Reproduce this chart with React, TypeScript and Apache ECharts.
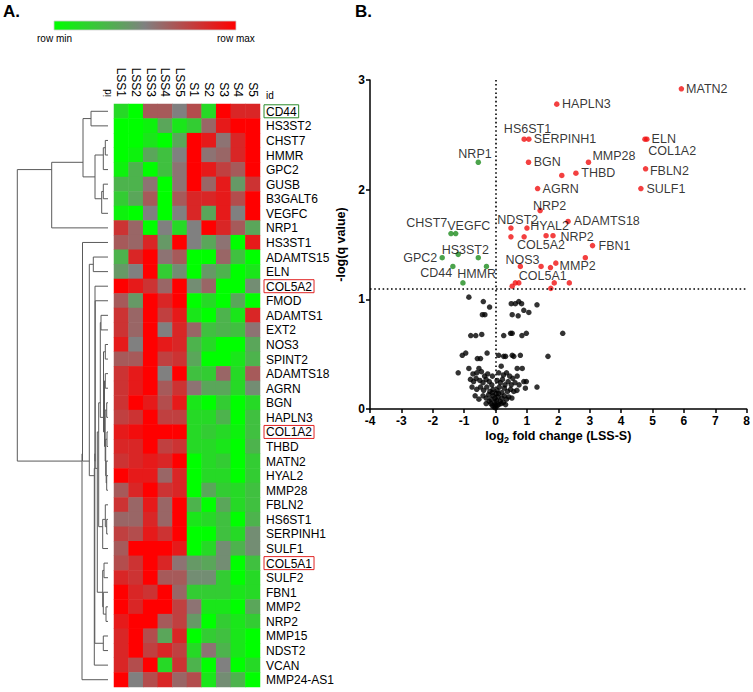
import React, { useEffect, useRef } from 'react';
import * as echarts from 'echarts';

const FONT = '"Liberation Sans", Arial, sans-serif';

// ---------- Panel A: heatmap ----------
const COLUMNS = ['LSS1', 'LSS2', 'LSS3', 'LSS4', 'LSS5', 'S1', 'S2', 'S3', 'S4', 'S5'];
const GENES = [
  'CD44', 'HS3ST2', 'CHST7', 'HMMR', 'GPC2', 'GUSB', 'B3GALT6', 'VEGFC', 'NRP1', 'HS3ST1',
  'ADAMTS15', 'ELN', 'COL5A2', 'FMOD', 'ADAMTS1', 'EXT2', 'NOS3', 'SPINT2', 'ADAMTS18', 'AGRN',
  'BGN', 'HAPLN3', 'COL1A2', 'THBD', 'MATN2', 'HYAL2', 'MMP28', 'FBLN2', 'HS6ST1', 'SERPINH1',
  'SULF1', 'COL5A1', 'SULF2', 'FBN1', 'MMP2', 'NRP2', 'MMP15', 'NDST2', 'VCAN', 'MMP24-AS1',
];
// relative expression, 0 = row min (green), 0.5 = middle (grey), 1 = row max (red)
const EXPR = [
  [0.15, 0.0, 0.65, 0.65, 0.5, 0.7, 0.15, 1.0, 0.85, 0.85],
  [0.0, 0.0, 0.05, 0.35, 0.1, 0.2, 0.6, 0.9, 1.0, 1.0],
  [0.0, 0.0, 0.1, 0.0, 0.35, 1.0, 0.9, 0.55, 0.85, 1.0],
  [0.0, 0.05, 0.35, 0.25, 0.5, 1.0, 0.55, 0.6, 0.85, 1.0],
  [0.05, 0.3, 0.0, 0.25, 0.55, 1.0, 0.9, 0.75, 0.65, 1.0],
  [0.3, 0.3, 0.55, 0.0, 0.55, 1.0, 0.6, 0.9, 0.4, 0.8],
  [0.2, 0.35, 0.65, 0.0, 0.65, 0.85, 0.85, 0.9, 0.7, 1.0],
  [0.05, 0.0, 0.5, 0.0, 0.5, 0.85, 0.35, 0.9, 0.5, 1.0],
  [0.8, 0.6, 0.0, 0.5, 0.15, 0.5, 1.0, 0.85, 0.65, 0.35],
  [0.65, 0.6, 0.85, 0.4, 1.0, 0.5, 0.35, 0.55, 0.0, 0.9],
  [0.3, 0.85, 1.0, 0.55, 0.65, 0.0, 0.0, 0.6, 0.25, 0.0],
  [0.4, 0.5, 1.0, 0.2, 0.45, 0.0, 0.4, 0.3, 0.0, 0.1],
  [1.0, 0.9, 0.8, 0.6, 1.0, 0.45, 0.6, 0.0, 0.0, 0.45],
  [0.65, 0.4, 1.0, 0.85, 1.0, 0.0, 0.15, 0.0, 0.35, 0.0],
  [0.8, 0.6, 1.0, 0.75, 0.9, 0.1, 0.0, 0.3, 0.1, 0.85],
  [0.8, 0.6, 1.0, 0.5, 0.85, 0.6, 0.25, 0.3, 0.25, 0.55],
  [0.9, 0.5, 1.0, 0.9, 0.85, 0.3, 0.15, 0.0, 0.0, 0.35],
  [0.65, 0.65, 1.0, 0.75, 0.8, 0.35, 0.0, 0.0, 0.1, 0.3],
  [0.8, 0.9, 1.0, 0.5, 1.0, 0.25, 0.2, 0.6, 0.15, 0.65],
  [0.8, 0.9, 1.0, 0.65, 0.8, 0.55, 0.35, 0.35, 0.15, 0.45],
  [0.8, 1.0, 0.9, 0.7, 0.9, 0.1, 0.0, 0.2, 0.0, 0.15],
  [0.75, 0.8, 1.0, 0.75, 0.75, 0.15, 0.15, 0.3, 0.0, 0.25],
  [0.9, 0.95, 1.0, 1.0, 1.0, 0.15, 0.2, 0.15, 0.05, 0.25],
  [0.85, 0.85, 1.0, 0.75, 0.8, 0.15, 0.15, 0.1, 0.0, 0.3],
  [0.8, 0.85, 0.9, 0.85, 1.0, 0.0, 0.15, 0.2, 0.0, 0.2],
  [1.0, 0.9, 0.9, 0.6, 0.85, 0.0, 0.15, 0.15, 0.0, 0.2],
  [0.65, 0.85, 1.0, 0.8, 0.85, 0.0, 0.35, 0.2, 0.15, 0.25],
  [0.8, 0.6, 0.9, 0.6, 1.0, 0.3, 0.0, 0.35, 0.15, 0.25],
  [0.6, 0.6, 0.85, 0.6, 1.0, 0.1, 0.15, 0.25, 0.0, 0.3],
  [0.75, 0.7, 0.9, 0.8, 1.0, 0.0, 0.0, 0.25, 0.15, 0.45],
  [0.65, 1.0, 1.0, 1.0, 0.9, 0.0, 0.15, 0.45, 0.3, 0.45],
  [0.7, 0.8, 1.0, 0.85, 0.55, 0.4, 0.35, 0.45, 0.0, 0.25],
  [0.85, 0.8, 1.0, 0.65, 0.65, 0.45, 0.45, 0.2, 0.0, 0.15],
  [1.0, 0.85, 0.8, 1.0, 0.6, 0.2, 0.2, 0.2, 0.1, 0.15],
  [1.0, 0.85, 1.0, 1.0, 0.75, 0.55, 0.1, 0.1, 0.0, 0.35],
  [0.9, 1.0, 1.0, 0.65, 0.75, 0.4, 0.0, 0.2, 0.1, 0.2],
  [0.85, 1.0, 0.7, 0.35, 0.85, 0.0, 0.2, 0.25, 0.1, 0.0],
  [0.85, 1.0, 0.75, 0.85, 0.75, 0.15, 0.55, 0.3, 0.1, 0.0],
  [0.85, 0.7, 1.0, 0.15, 0.8, 0.3, 0.0, 0.5, 0.0, 0.15],
  [1.0, 0.5, 0.7, 0.85, 0.6, 0.7, 0.1, 0.45, 0.3, 0.0],
];
const BOXED_GREEN = ['CD44'];
const BOXED_RED = ['COL5A2', 'COL1A2', 'COL5A1'];

// Row dendrogram: [linkage height, left, right]; leaves are row indices
type TreeNode = number | [number, TreeNode, TreeNode];
const TREE: TreeNode = [90.7,
  [56.3,
    [25, [17, 0, 1], [13, [4.7, [2.7, 2, 3], 4], [6.3, [4.7, 5, 6], 7]]],
    8],
  [26,
    [25.5, 9,
      [18.7, [14.7, 10, 11],
        [13.7,
          [13.2,
            [13, 12,
              [12.8, 13,
                [10.7,
                  [9.3,
                    [7.7, [7, 14, 15],
                      [4.5, [2.7, 16, 17], [3.5, [2.7, 18, 19], [2.8, [1.3, 20, 21], [2.3, [1, 22, 23], [1.8, 24, [1.3, 25, 26]]]]]]],
                    [5.3, [2.7, 27, [1.3, 28, 29]], 30]],
                  [5.3, [4, 31, 32], [4.7, 33, [2, 34, 35]]]]]],
            [4.7, 36, 37]],
          38]]],
    39]];

// ---------- Panel B: volcano ----------
const UP_LABELS = ['MATN2', 'HAPLN3', 'HS6ST1', 'SERPINH1', 'COL1A2', 'ELN', 'BGN', 'MMP28', '', 'THBD',
  'FBLN2', 'AGRN', 'SULF1', 'NRP2', 'ADAMTS18', 'NDST2', 'HYAL2', '', 'COL5A2', '', 'NRP2', 'FBN1', '',
  'NOS3', '', '', 'MMP2', '', '', 'COL5A1', '', '', ''];
const UP_FC = [5.92, 1.95, 0.91, 1.06, 4.76, 4.82, 1.05, 2.96, 2.11, 2.56,
  4.78, 1.34, 4.63, 1.42, 2.31, 0.49, 1.0, 0.49, 0.91, 1.61, 1.83, 3.09, 2.86,
  0.79, 1.45, 1.75, 1.92, 0.53, 0.63, 0.74, 1.76, 1.87, 2.35];
const UP_Q = [2.92, 2.78, 2.46, 2.46, 2.46, 2.46, 2.25, 2.25, 2.13, 2.15,
  2.19, 2.01, 2.01, 1.81, 1.71, 1.65, 1.65, 1.57, 1.57, 1.58, 1.58, 1.49, 1.38,
  1.3, 1.3, 1.29, 1.33, 1.12, 1.15, 1.15, 1.1, 1.15, 1.15];

const DOWN_LABELS = ['NRP1', 'CHST7', 'VEGFC', 'GPC2', 'HS3ST2', '', 'CD44', '', 'HMMR'];
const DOWN_FC = [-0.55, -1.42, -1.27, -1.7, -1.19, -0.55, -1.36, -0.29, -1.04];
const DOWN_Q = [2.25, 1.6, 1.6, 1.38, 1.41, 1.38, 1.3, 1.3, 1.15];

const NS_FC = [-0.85, -0.39, -0.19, -0.42, -0.34, 0.5, 0.63, 0.74, 0.83, 0.9, 1.06, 0.53, 0.72, 1.32,
  -0.79, -0.63, -0.44, 0.26, 0.48, 0.53, 0.84, 0.98, 2.14,
  -1.06, -0.95, -0.58, -0.48, -0.27, 0.1, 0.26, 0.32, 0.53, 0.58, 0.79, 1.67,
  -1.19, -0.85, -0.53, 0.18, 0.69, 0.85,
  -0.72, -0.6, -0.45, -0.35, -0.25, -0.1, 0.1, 0.25, 0.35, 0.45, 0.55, 0.69, 0.9, 0.98, 0.95, 1.32,
  -0.8, -0.7, -0.62, -0.5, -0.4, -0.3, -0.2, -0.12, 0.05, 0.15, 0.22, 0.3, 0.4, 0.5, 0.62, 0.75,
  -0.75, -0.6, -0.48, -0.38, -0.28, -0.18, -0.08, 0.05, 0.12, 0.2, 0.28, 0.38, 0.48, 0.58, 0.68,
  -0.53, -0.4, -0.3, -0.22, -0.14, -0.08, -0.03, 0.03, 0.08, 0.14, 0.2, 0.28, 0.35, 0.42, 0.52,
  -0.15, -0.1, -0.05, 0.0, 0.05, 0.1, 0.18, 0.25, -0.2, 0.0, -0.02, 0.02, -0.1, 0.1, -0.65, -0.3, 0.32];
const NS_Q = [1.02, 0.98, 0.93, 0.86, 0.86, 0.96, 0.96, 0.98, 0.96, 0.9, 0.88, 0.86, 0.85, 0.95,
  0.67, 0.67, 0.68, 0.67, 0.69, 0.69, 0.67, 0.69, 0.69,
  0.49, 0.51, 0.46, 0.46, 0.51, 0.49, 0.48, 0.48, 0.49, 0.48, 0.49, 0.48,
  0.33, 0.37, 0.37, 0.39, 0.37, 0.37,
  0.32, 0.33, 0.34, 0.3, 0.32, 0.3, 0.33, 0.31, 0.33, 0.3, 0.28, 0.3, 0.25, 0.25, 0.19, 0.2,
  0.27, 0.25, 0.28, 0.26, 0.24, 0.27, 0.25, 0.22, 0.26, 0.24, 0.27, 0.22, 0.25, 0.22, 0.24, 0.22,
  0.2, 0.18, 0.2, 0.17, 0.2, 0.16, 0.18, 0.17, 0.2, 0.15, 0.19, 0.16, 0.18, 0.16, 0.17,
  0.09, 0.12, 0.1, 0.13, 0.09, 0.12, 0.06, 0.08, 0.11, 0.07, 0.1, 0.12, 0.09, 0.11, 0.1,
  0.05, 0.03, 0.02, 0.01, 0.03, 0.04, 0.05, 0.06, 0.07, 0.04, 0.1, 0.14, 0.15, 0.14, 0.12, 0.05, 0.04];

const X_TICKS = [-4, -3, -2, -1, 0, 1, 2, 3, 4, 5, 6, 7, 8];
const Y_TICKS = [0, 1, 2, 3];
const Q_THRESHOLD = 1.1;

// label placement (side, dx, dy) for labelled volcano points, same order as the label arrays
const UP_LABEL_LAYOUT: [string, number, number][] = [
  ['right', 2, 0], ['right', 2.5, 0], ['right', -23, -10.4], ['right', 2.2, 0], ['right', 0.5, 12],
  ['right', 2, 0], ['right', 2.5, 0], ['right', 1.2, -6], ['right', 0, 0], ['right', 2.6, 0],
  ['right', 1.6, 2.6], ['right', 2.2, 0], ['right', 2.8, 0], ['right', -10, -5], ['right', 3, 0],
  ['right', -16.4, -8.4], ['right', 0.6, -2], ['right', 0, 0], ['right', -9.8, 8.3], ['right', 0, 0],
  ['right', 4.7, 1], ['right', 3.2, 0], ['right', 0, 0], ['right', -17.7, -6.7], ['right', 0, 0],
  ['right', 0, 0], ['right', 1, 2.6], ['right', 0, 0], ['right', 0, 0], ['right', -2.7, -7],
  ['right', 0, 0], ['right', 0, 0], ['right', 0, 0],
];
const DOWN_LABEL_LAYOUT: [string, number, number][] = [
  ['right', -22.7, -8], ['left', -1, -11], ['right', -11.2, -7.6], ['left', -2.2, 0], ['right', -19.3, -4.3],
  ['right', 0, 0], ['left', 2, 7], ['right', 0, 0], ['right', -8.5, -8.4],
];

function buildDendro(tree: TreeNode) {
  const segs: number[][] = [];
  const walk = (n: TreeNode): { h: number; y: number; c: number } => {
    if (typeof n === 'number') return { h: 0, y: n + 0.5, c: 1 };
    const [h, l, r] = n;
    const a = walk(l);
    const b = walk(r);
    segs.push([h, a.y, b.y, a.h, b.h]);
    return { h, y: (a.y * a.c + b.y * b.c) / (a.c + b.c), c: a.c + b.c };
  };
  walk(tree);
  return segs;
}

function pointData(labels: string[], fc: number[], q: number[], layout: [string, number, number][]) {
  return fc.map((x, i) => {
    const name = labels[i];
    const item: any = { value: [x, q[i]], name };
    if (name) {
      const [pos, dx, dy] = layout[i];
      item.label = {
        show: true, formatter: name, position: pos, distance: 0, offset: [dx, dy],
        fontSize: 12.5, color: '#000', fontFamily: FONT,
      };
    }
    return item;
  });
}

export default function App() {
  const ref = useRef<HTMLDivElement>(null);
  useEffect(() => {
    document.body.style.margin = '0';
    const chart = echarts.init(ref.current!, undefined, { renderer: 'svg' });

    const heatData: number[][] = [];
    EXPR.forEach((row, r) => row.forEach((v, c) => heatData.push([c, r, v])));
    const dendro = buildDendro(TREE);

    const option: any = {
      animation: false,
      textStyle: { fontFamily: FONT },
      grid: [
        { left: 114, top: 104, width: 146, height: 583 },
        { left: 17, top: 104, width: 91, height: 583 },
        { left: 370, top: 80, width: 378, height: 329 },
      ],
      visualMap: {
        show: false, type: 'continuous', min: 0, max: 1, seriesIndex: 0, dimension: 2,
        inRange: { color: ['#00ff00', '#808080', '#ff0000'] },
      },
      xAxis: [
        {
          gridIndex: 0, type: 'category', data: COLUMNS, position: 'top',
          axisLine: { show: false }, axisTick: { show: false },
          axisLabel: { rotate: 90, margin: 7, fontSize: 12, color: '#000', interval: 0 },
        },
        { gridIndex: 1, type: 'value', min: 0, max: 91, inverse: true, show: false },
        {
          gridIndex: 2, type: 'value', min: -4, max: 8, interval: 1,
          splitLine: { show: false },
          axisLine: { onZero: false, lineStyle: { color: '#000', width: 1.5 } },
          axisTick: { length: 4, lineStyle: { color: '#000', width: 1.5 } },
          axisLabel: {
            fontSize: 12, fontWeight: 'bold', color: '#000', margin: 6,
            formatter: (v: number) => (X_TICKS.includes(v) ? String(v) : ''),
          },
          name: '{a|log}{s|2}{a| fold change (LSS-S)}', nameLocation: 'middle', nameGap: 19,
          nameTextStyle: {
            rich: {
              a: { fontSize: 12.5, fontWeight: 'bold', color: '#000', lineHeight: 16, verticalAlign: 'middle', fontFamily: FONT },
              s: { fontSize: 9, fontWeight: 'bold', color: '#000', lineHeight: 9, verticalAlign: 'bottom', fontFamily: FONT },
            },
          },
        },
      ],
      yAxis: [
        {
          gridIndex: 0, type: 'category', data: GENES, inverse: true, position: 'right',
          axisLine: { show: false }, axisTick: { show: false },
          axisLabel: {
            interval: 0, margin: 4, fontSize: 12, color: '#000',
            formatter: (v: string) =>
              BOXED_GREEN.includes(v) ? `{g|${v}}` : BOXED_RED.includes(v) ? `{r|${v}}` : `{n|${v}}`,
            rich: {
              n: { fontSize: 12, color: '#000', padding: [1, 2, 0, 2] },
              g: { fontSize: 12, color: '#000', borderColor: '#2a8a2a', borderWidth: 1, padding: [1, 2, 0, 2] },
              r: { fontSize: 12, color: '#000', borderColor: '#e02424', borderWidth: 1, padding: [1, 2, 0, 2] },
            },
          },
        },
        { gridIndex: 1, type: 'value', min: 0, max: 40, inverse: true, show: false },
        {
          gridIndex: 2, type: 'value', min: 0, max: 3, interval: 1,
          splitLine: { show: false },
          axisLine: { show: true, onZero: false, lineStyle: { color: '#000', width: 1.5 } },
          axisTick: { show: true, length: 4, lineStyle: { color: '#000', width: 1.5 } },
          axisLabel: {
            fontSize: 12, fontWeight: 'bold', color: '#000', margin: 5,
            formatter: (v: number) => (Y_TICKS.includes(v) ? String(v) : ''),
          },
          name: '-log(q value)', nameLocation: 'middle', nameGap: 14,
          nameTextStyle: { fontSize: 12.5, fontWeight: 'bold', color: '#000' },
        },
      ],
      series: [
        {
          type: 'heatmap', xAxisIndex: 0, yAxisIndex: 0, data: heatData,
          emphasis: { disabled: true }, silent: true,
        },
        {
          type: 'custom', xAxisIndex: 1, yAxisIndex: 1, data: dendro, silent: true,
          renderItem: (params: any, api: any) => {
            const nh = api.value(0), y1 = api.value(1), y2 = api.value(2), h1 = api.value(3), h2 = api.value(4);
            const pts = [api.coord([h1, y1]), api.coord([nh, y1]), api.coord([nh, y2]), api.coord([h2, y2])];
            return { type: 'polyline', shape: { points: pts }, style: { stroke: '#5a5a5a', lineWidth: 1, fill: null } };
          },
        },
        {
          type: 'scatter', xAxisIndex: 2, yAxisIndex: 2, symbolSize: 5.5, silent: true,
          itemStyle: { color: '#000' },
          data: NS_FC.map((x, i) => [x, NS_Q[i]]),
          markLine: {
            silent: true, symbol: 'none', label: { show: false },
            lineStyle: { color: '#000', type: [1.6, 2.6], width: 1.6 },
            data: [{ xAxis: 0 }, { yAxis: Q_THRESHOLD }],
          },
        },
        {
          type: 'scatter', xAxisIndex: 2, yAxisIndex: 2, symbolSize: 5.5, silent: true,
          itemStyle: { color: '#1e8c1e' },
          data: pointData(DOWN_LABELS, DOWN_FC, DOWN_Q, DOWN_LABEL_LAYOUT),
        },
        {
          type: 'scatter', xAxisIndex: 2, yAxisIndex: 2, symbolSize: 5.5, silent: true,
          itemStyle: { color: '#f01010' },
          data: pointData(UP_LABELS, UP_FC, UP_Q, UP_LABEL_LAYOUT),
        },
      ],
      graphic: [
        { type: 'text', left: 3, top: 3, style: { text: 'A.', fontSize: 17, fontWeight: 'bold', fill: '#000', fontFamily: FONT } },
        { type: 'text', left: 355, top: 3, style: { text: 'B.', fontSize: 17, fontWeight: 'bold', fill: '#000', fontFamily: FONT } },
        {
          type: 'rect', shape: { x: 54, y: 21, width: 182, height: 9 },
          style: {
            stroke: '#cfcfcf', lineWidth: 0.8,
            fill: new echarts.graphic.LinearGradient(0, 0, 1, 0, [
              { offset: 0, color: '#00ff00' }, { offset: 0.5, color: '#808080' }, { offset: 1, color: '#ff0000' },
            ]),
          },
        },
        { type: 'text', x: 37, y: 38.5, style: { text: 'row min', fontSize: 10, fill: '#000', verticalAlign: 'middle', fontFamily: FONT } },
        { type: 'text', x: 217, y: 38.5, style: { text: 'row max', fontSize: 10, fill: '#000', verticalAlign: 'middle', fontFamily: FONT } },
        { type: 'text', x: 112, y: 97, rotation: Math.PI / 2, style: { text: 'id', fontSize: 10, fill: '#000', align: 'left', verticalAlign: 'bottom', fontFamily: FONT } },
        { type: 'text', x: 266, y: 95, style: { text: 'id', fontSize: 10, fill: '#000', verticalAlign: 'middle', fontFamily: FONT } },
      ],
    };
    chart.setOption(option);
    return () => chart.dispose();
  }, []);
  return <div ref={ref} style={{ width: 753, height: 692 }} />;
}
